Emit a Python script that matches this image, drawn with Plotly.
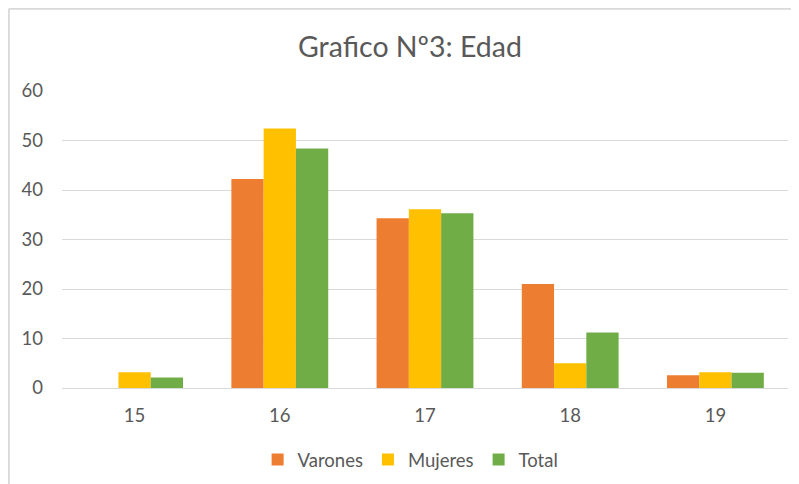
import plotly.graph_objects as go

categories = ["15", "16", "17", "18", "19"]
varones = [0, 42.2, 34.3, 21.0, 2.6]
mujeres = [3.2, 52.4, 36.1, 5.0, 3.2]
total = [2.1, 48.4, 35.3, 11.2, 3.1]

series = [("Varones", varones, "#ED7D31"), ("Mujeres", mujeres, "#FFC000"), ("Total", total, "#70AD47")]

FONT = "Lato"
GRAY = "#595959"

# page body has an 8px margin, so the figure is sized to fit the window
W, H = 791, 476
L, R, T, B = 54, 11, 83, 96
PW, PH = W - L - R, H - T - B

fig = go.Figure()
for name, vals, color in series:
    fig.add_trace(go.Bar(x=categories, y=vals, name=name, marker=dict(color=color, line=dict(width=0))))

fig.update_layout(
    width=W, height=H,
    margin=dict(l=L, r=R, t=T, b=B, autoexpand=False),
    paper_bgcolor="white", plot_bgcolor="white",
    font=dict(family=FONT, color=GRAY, size=18),
    barmode="group", bargap=0.333, bargroupgap=0,
    title=dict(text="Grafico Nº3: Edad", x=402 / W, xref="container", xanchor="center",
               y=1 - 39 / H, yref="container", yanchor="middle",
               font=dict(family=FONT, size=28.5, color=GRAY)),
    legend=dict(orientation="h", xref="container", yref="container", x=0.509, xanchor="center",
                y=1 - 452 / H, yanchor="middle", font=dict(size=18.5, color=GRAY),
                itemwidth=30, traceorder="normal"),
    showlegend=True,
)
fig.update_xaxes(type="category", showgrid=False, showline=False, zeroline=False, automargin=False,
                 ticks="", ticklabelstandoff=14, tickfont=dict(size=18.5, color=GRAY))
fig.update_yaxes(range=[0, 60], dtick=10, showgrid=True, gridcolor="#D9D9D9", gridwidth=1.3,
                 zeroline=True, zerolinecolor="#D9D9D9", zerolinewidth=1.3, showline=False,
                 automargin=False, ticks="", ticklabelstandoff=18, tickfont=dict(size=18.5, color=GRAY))

# chart frame (cropped at right and bottom)
fx = (0.8 - L) / PW
fy = 1 + (T - 0.8) / PH
fig.add_shape(type="line", xref="paper", yref="paper", x0=fx, x1=1.1, y0=fy, y1=fy,
              line=dict(color="#D9D9D9", width=2))
fig.add_shape(type="line", xref="paper", yref="paper", x0=fx, x1=fx, y0=fy, y1=-0.5,
              line=dict(color="#D9D9D9", width=2))

fig.write_html("out.html")
